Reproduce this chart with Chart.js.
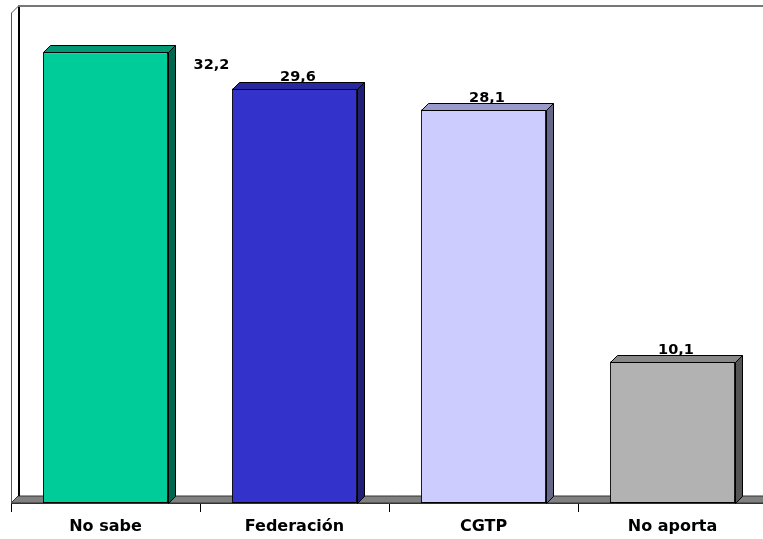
<!DOCTYPE html>
<html>
<head>
<meta charset="utf-8">
<script src="https://cdn.jsdelivr.net/npm/chart.js@4.4.1/dist/chart.umd.min.js"></script>
<style>
  html, body { margin: 0; padding: 0; overflow: hidden; background: #fff; }
</style>
</head>
<body>
<canvas id="chart" width="772" height="539"></canvas>
<script>
let categories = ["No sabe", "Federación", "CGTP", "No aporta"];
let values = [32.2, 29.6, 28.1, 10.1];
let valueLabels = ["32,2", "29,6", "28,1", "10,1"];

let frontColors = ["#00CC99", "#3333CC", "#CCCCFF", "#B2B2B2"];
let topColors = ["#009973", "#2828A0", "#9999CC", "#888888"];
let sideColors = ["#006650", "#1F1F78", "#666688", "#555555"];

const DEPTH = 7;
const labelFont = "bold 14.5px 'DejaVu Sans', Verdana, sans-serif";

// walls and floor behind the bars
const walls = {
  id: "walls",
  beforeDatasetsDraw(chart) {
    let ctx = chart.ctx;
    let a = chart.chartArea;
    let d = DEPTH;
    ctx.save();
    // floor
    ctx.beginPath();
    ctx.moveTo(a.left, a.bottom);
    ctx.lineTo(a.left + d, a.bottom - d);
    ctx.lineTo(a.right + d, a.bottom - d);
    ctx.lineTo(a.right, a.bottom);
    ctx.closePath();
    ctx.fillStyle = "#808080";
    ctx.fill();
    ctx.strokeStyle = "#333";
    ctx.lineWidth = 1;
    ctx.stroke();
    // left wall
    ctx.beginPath();
    ctx.moveTo(a.left + 0.5, a.bottom);
    ctx.lineTo(a.left + 0.5, a.top);
    ctx.lineTo(a.left + d + 0.5, a.top - d);
    ctx.lineTo(a.left + d + 0.5, a.bottom - d);
    ctx.strokeStyle = "#555";
    ctx.lineWidth = 1;
    ctx.stroke();
    // back wall edges
    ctx.beginPath();
    ctx.moveTo(a.left + d + 1, a.top - d);
    ctx.lineTo(a.left + d + 1, a.bottom - d);
    ctx.strokeStyle = "#000";
    ctx.lineWidth = 2;
    ctx.stroke();
    ctx.beginPath();
    ctx.moveTo(a.left + d, a.top - d);
    ctx.lineTo(a.right + d, a.top - d);
    ctx.strokeStyle = "#777";
    ctx.lineWidth = 2;
    ctx.stroke();
    ctx.restore();
  }
};

// top and side faces of the bars, plus value labels
const bars3d = {
  id: "bars3d",
  afterDatasetsDraw(chart) {
    let ctx = chart.ctx;
    let d = DEPTH;
    let meta = chart.getDatasetMeta(0);
    ctx.save();
    ctx.lineWidth = 1;
    ctx.strokeStyle = "#000";
    meta.data.forEach((bar, i) => {
      let x1 = Math.round(bar.x - bar.width / 2) + 0.5;
      let x2 = Math.round(bar.x + bar.width / 2) + 0.5;
      let y = Math.round(bar.y) + 0.5;
      let b = Math.round(bar.base) + 0.5;
      // top
      ctx.beginPath();
      ctx.moveTo(x1, y);
      ctx.lineTo(x1 + d, y - d);
      ctx.lineTo(x2 + d, y - d);
      ctx.lineTo(x2, y);
      ctx.closePath();
      ctx.fillStyle = topColors[i];
      ctx.fill();
      ctx.stroke();
      // side
      ctx.beginPath();
      ctx.moveTo(x2, y);
      ctx.lineTo(x2 + d, y - d);
      ctx.lineTo(x2 + d, b - d);
      ctx.lineTo(x2, b);
      ctx.closePath();
      ctx.fillStyle = sideColors[i];
      ctx.fill();
      ctx.stroke();
      // label
      ctx.fillStyle = "#000";
      ctx.font = labelFont;
      ctx.textAlign = "center";
      ctx.textBaseline = "alphabetic";
      if (i === 0) {
        ctx.fillText(valueLabels[i], x2 + 43, y + 16);
      } else {
        ctx.fillText(valueLabels[i], bar.x + d / 2, y - d - 2);
      }
    });
    ctx.restore();
  }
};

new Chart(document.getElementById("chart"), {
  type: "bar",
  data: {
    labels: categories,
    datasets: [{
      data: values,
      backgroundColor: frontColors,
      borderColor: "#000",
      borderWidth: 1,
      borderSkipped: false,
      categoryPercentage: 1,
      barPercentage: 0.662
    }]
  },
  options: {
    responsive: false,
    animation: false,
    events: [],
    layout: { padding: { left: 11, right: 5, top: 13, bottom: 0 } },
    plugins: {
      legend: { display: false },
      tooltip: { enabled: false }
    },
    scales: {
      y: {
        display: false,
        min: 0,
        max: 35
      },
      x: {
        afterFit(s) { s.height = 36; },
        grid: {
          offset: true,
          drawOnChartArea: false,
          tickLength: 9,
          color: "#000"
        },
        border: { display: true, color: "#333" },
        ticks: {
          color: "#000",
          padding: 5,
          font: { family: "'DejaVu Sans', Verdana, sans-serif", size: 16, weight: "bold" }
        }
      }
    }
  },
  plugins: [walls, bars3d]
});
</script>
</body>
</html>
